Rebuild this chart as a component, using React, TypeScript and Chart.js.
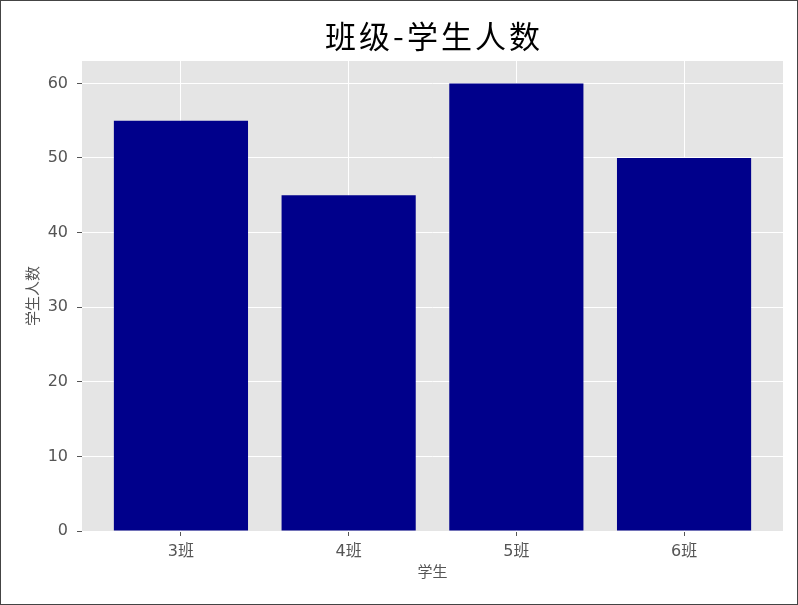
import { useEffect, useRef } from "react";
import { Chart, registerables } from "chart.js";
import type { Plugin } from "chart.js";

Chart.register(...registerables);

const classes = ["3班", "4班", "5班", "6班"];
const students = [55, 45, 60, 50];
const yTicks = [0, 10, 20, 30, 40, 50, 60];
const chartTitle = "班级-学生人数";
const xTitle = "学生";
const yTitle = "学生人数";

const tickFont = { family: '"DejaVu Sans", "Noto Sans CJK SC", sans-serif', size: 16 };
const labelFont = { family: '"Noto Sans CJK SC", sans-serif', size: 15 };

// grey ggplot-like panel behind the bars
const plotBackground: Plugin<"bar"> = {
  id: "plotBackground",
  beforeDraw(chart) {
    const { ctx, chartArea: a } = chart;
    ctx.save();
    ctx.fillStyle = "#e5e5e5";
    ctx.fillRect(a.left, a.top, a.right - a.left, a.bottom - a.top);
    ctx.restore();
  },
};

// title drawn by hand so the letters can be spread out a little
const spacedTitle: Plugin<"bar"> = {
  id: "spacedTitle",
  afterDraw(chart) {
    const { ctx, chartArea: a } = chart;
    const spacing = 3;
    ctx.save();
    ctx.font = '31px "Noto Sans CJK SC", sans-serif';
    (ctx as any).letterSpacing = spacing + "px";
    ctx.fillStyle = "#000";
    ctx.textAlign = "center";
    ctx.textBaseline = "middle";
    ctx.fillText(chartTitle, (a.left + a.right) / 2 + spacing / 2, 35);
    ctx.restore();
  },
};

const App = () => {
  const canvasRef = useRef<HTMLCanvasElement | null>(null);

  useEffect(() => {
    if (!canvasRef.current) return;
    const chart = new Chart(canvasRef.current, {
      type: "bar",
      data: {
        datasets: [
          {
            label: yTitle,
            data: classes.map((_, i) => ({ x: i, y: students[i] })),
            backgroundColor: "#00008b",
            borderWidth: 0,
            barPercentage: 0.8,
            categoryPercentage: 1,
          },
        ],
      },
      options: {
        animation: false,
        responsive: true,
        maintainAspectRatio: false,
        layout: { padding: { top: 60, right: 14, bottom: 0, left: 0 } },
        plugins: {
          legend: { display: false },
          tooltip: { enabled: false },
        },
        scales: {
          x: {
            type: "linear",
            min: -0.59,
            max: 3.59,
            offset: false,
            afterBuildTicks: (scale) => {
              scale.ticks = classes.map((_, i) => ({ value: i }));
            },
            afterFit: (scale) => {
              scale.height = 73;
            },
            ticks: {
              callback: (v) => classes[Number(v)] ?? "",
              font: tickFont,
              color: "#555",
              padding: 6,
              maxRotation: 0,
              autoSkip: false,
            },
            grid: { offset: false, color: "#ffffff", lineWidth: 1, tickLength: 5, tickColor: "#555" },
            border: { display: false },
            title: {
              display: true,
              text: xTitle,
              font: labelFont,
              color: "#555",
              padding: { top: 0, bottom: 24 },
            },
          },
          y: {
            min: 0,
            max: 63,
            afterBuildTicks: (scale) => {
              scale.ticks = yTicks.map((v) => ({ value: v }));
            },
            afterFit: (scale) => {
              scale.width = 81;
            },
            ticks: { font: tickFont, color: "#555", padding: 9 },
            grid: { color: "#ffffff", lineWidth: 1, tickLength: 5, tickColor: "#555" },
            border: { display: false },
            title: {
              display: true,
              text: yTitle,
              font: labelFont,
              color: "#555",
              padding: { top: 22, bottom: 0 },
            },
          },
        },
      },
      plugins: [plotBackground, spacedTitle],
    });
    return () => chart.destroy();
  }, []);

  return (
    <div
      style={{
        position: "absolute",
        left: 0,
        top: 0,
        width: 798,
        height: 605,
        boxSizing: "border-box",
        border: "1px solid #444",
        background: "#fff",
      }}
    >
      <div style={{ position: "relative", width: "100%", height: "100%" }}>
        <canvas ref={canvasRef}></canvas>
      </div>
    </div>
  );
};

export default App;
